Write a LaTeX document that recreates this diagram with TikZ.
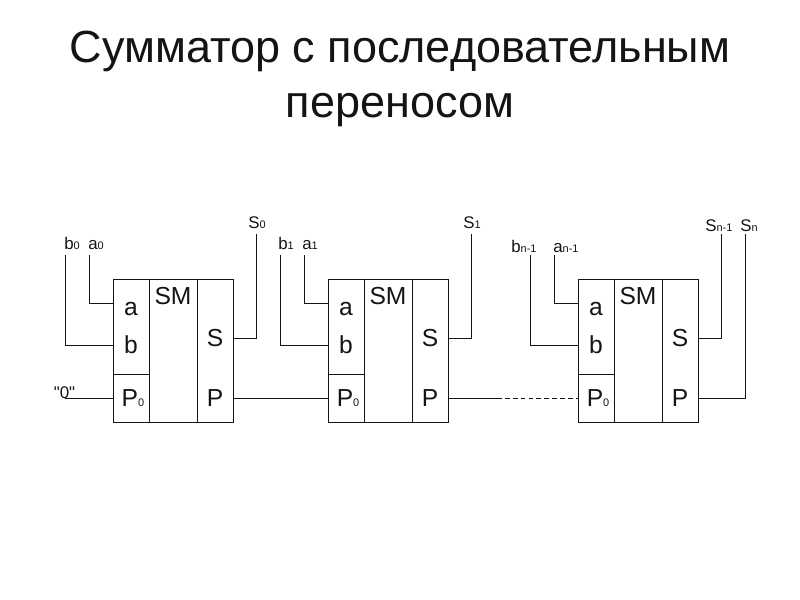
\documentclass[tikz,border=0pt]{standalone}
\usepackage{fontspec}
\setmainfont{Liberation Sans}
\newfontfamily\plainfont{Liberation Sans}
\definecolor{ink}{HTML}{141414}
\newcommand{\idx}[1]{{\fontsize{7.8}{7.8}\selectfont #1}}
\usetikzlibrary{positioning}

\begin{document}
\begin{tikzpicture}[x=0.025cm, y=-0.025cm,
  cell/.style={rectangle, draw=ink, line width=0.65pt, inner sep=0pt, anchor=north west},
  pin/.style={text=ink, font=\fontsize{17.5}{18}\selectfont, inner sep=0pt, minimum height=0.3cm},
  sig/.style={text=ink, font=\fontsize{12}{13}\selectfont, inner sep=0pt, anchor=base west},
  wire/.style={draw=ink, line width=0.65pt},
]
\useasboundingbox (0,0) rectangle (800,599);
\node[text=ink, font=\fontsize{32}{39}\selectfont, align=center, inner sep=0pt] (title) at (400,79) {Сумматор с последовательным\\переносом};
% first block
\node[cell, minimum width=0.9cm, minimum height=2.375cm] (ab0) at (113,279) {};
\node[cell, minimum width=0.9cm, minimum height=1.2cm] (pc0) at (113,374) {};
\node[cell, minimum width=1.2cm, minimum height=3.575cm] (sm0) at (149,279) {};
\node[cell, minimum width=0.9cm, minimum height=3.575cm] (sp0) at (197,279) {};
\node[pin] (tsm0) at (173,296) {SM};
\node[pin, minimum width=0.9cm] (ta0) at (131,309) {a};
\node[pin, minimum width=0.9cm] (tb0) at (131,345) {b};
\node[pin, minimum width=0.9cm] (tp0) at (133,398) {P\idx{0}};
\node[pin, minimum width=0.9cm] (ts0) at (215,338) {S};
\node[pin, minimum width=0.9cm] (tc0) at (215,398) {P};
\coordinate (ina0) at (113,303);
% second block
\node[cell, minimum width=0.9cm, minimum height=2.375cm] (ab1) at (328,279) {};
\node[cell, minimum width=0.9cm, minimum height=1.2cm] (pc1) at (328,374) {};
\node[cell, minimum width=1.2cm, minimum height=3.575cm] (sm1) at (364,279) {};
\node[cell, minimum width=0.9cm, minimum height=3.575cm] (sp1) at (412,279) {};
\node[pin] (tsm1) at (388,296) {SM};
\node[pin, minimum width=0.9cm] (ta1) at (346,309) {a};
\node[pin, minimum width=0.9cm] (tb1) at (346,345) {b};
\node[pin, minimum width=0.9cm] (tp1) at (348,398) {P\idx{0}};
\node[pin, minimum width=0.9cm] (ts1) at (430,338) {S};
\node[pin, minimum width=0.9cm] (tc1) at (430,398) {P};
\coordinate (ina1) at (328,303);
% last block
\node[cell, minimum width=0.9cm, minimum height=2.375cm] (abn) at (578,279) {};
\node[cell, minimum width=0.9cm, minimum height=1.2cm] (pcn) at (578,374) {};
\node[cell, minimum width=1.2cm, minimum height=3.575cm] (smn) at (614,279) {};
\node[cell, minimum width=0.9cm, minimum height=3.575cm] (spn) at (662,279) {};
\node[pin] (tsmn) at (638,296) {SM};
\node[pin, minimum width=0.9cm] (tan) at (596,309) {a};
\node[pin, minimum width=0.9cm] (tbn) at (596,345) {b};
\node[pin, minimum width=0.9cm] (tpn) at (598,398) {P\idx{0}};
\node[pin, minimum width=0.9cm] (tsn) at (680,338) {S};
\node[pin, minimum width=0.9cm] (tcn) at (680,398) {P};
\coordinate (inan) at (578,303);
% signal names
\node[sig] (lb0) at (64,249) {b\idx{0}};
\node[sig] (la0) at (88,249) {a\idx{0}};
\node[sig] (ls0) at (248,228) {S\idx{0}};
\node[sig] (lb1) at (278,249) {b\idx{1}};
\node[sig] (la1) at (302,249) {a\idx{1}};
\node[sig] (ls1) at (463,228) {S\idx{1}};
\node[sig] (lbn) at (511,252) {b\idx{n-1}};
\node[sig] (lan) at (553,252) {a\idx{n-1}};
\node[sig] (lsn) at (705,231) {S\idx{n-1}};
\node[sig] (lcn) at (740,231) {S\idx{n}};
\node[sig, anchor=center, font=\fontsize{12}{13}\plainfont] (zero) at (64.5,392.5) {"0"};
% free wire ends
\coordinate (topb0) at (65.5,255);
\coordinate (topa0) at (89.5,255);
\coordinate (tops0) at (256.5,234);
\coordinate (topb1) at (280.5,255);
\coordinate (topa1) at (304.5,255);
\coordinate (tops1) at (471.5,234);
\coordinate (topbn) at (530.5,255);
\coordinate (topan) at (554.5,255);
\coordinate (topsn) at (721.5,234);
\coordinate (topcn) at (745.5,234);
\coordinate (gap) at (497,398);
\coordinate (pin0) at (113,398);
\coordinate (pin1) at (328,398);
\coordinate (pinn) at (578,398);
% wires
\draw[wire] (topb0) |- (tb0.west);
\draw[wire] (topa0) |- (ina0);
\draw[wire] (ts0.east) -| (tops0);
\draw[wire] (zero.south |- pin0) -- (pin0);
\draw[wire] (tc0.east) -- (pin1);
\draw[wire] (topb1) |- (tb1.west);
\draw[wire] (topa1) |- (ina1);
\draw[wire] (ts1.east) -| (tops1);
\draw[wire] (tc1.east) -- (gap);
\draw[wire, dash pattern=on 3.4pt off 2.2pt] (gap) -- (pinn);
\draw[wire] (topbn) |- (tbn.west);
\draw[wire] (topan) |- (inan);
\draw[wire] (tsn.east) -| (topsn);
\draw[wire] (tcn.east) -| (topcn);
\end{tikzpicture}
\end{document}
